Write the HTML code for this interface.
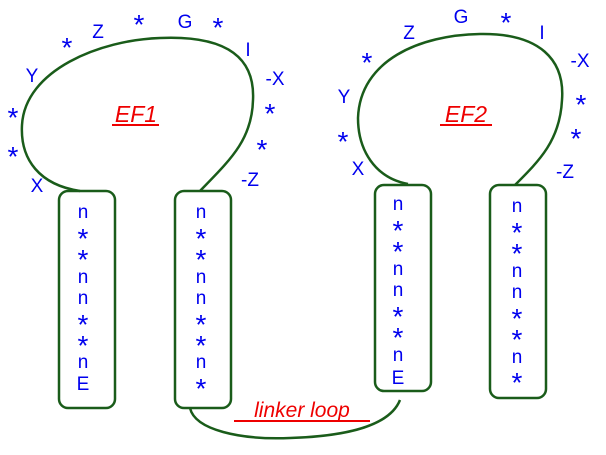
<!DOCTYPE html>
<html><head><style>body{margin:0;background:#fff}svg{display:block}.s{font-size:28px}</style></head><body>
<svg width="606" height="455" viewBox="0 0 606 455" xmlns="http://www.w3.org/2000/svg" font-family="Liberation Sans, sans-serif">
<g fill="none" stroke="#1a5c1a" stroke-width="2.5">
<rect x="59" y="191" width="56" height="217" rx="9"/>
<rect x="175" y="191" width="56" height="217" rx="9"/>
<rect x="375" y="185" width="56" height="206" rx="9"/>
<rect x="490" y="185" width="56" height="213" rx="9"/>
<path d="M80,191 C40,185 20,160 22,125 C25,70 100,40 160,38 C230,35 255,60 253,100 C252,140 230,160 200,191"/>
<path d="M408,184 C375,178 358,150 358,118 C360,60 420,35 480,34 C540,33 565,60 562,100 C560,140 540,160 515,185"/>
<path d="M190,408 C195,430 240,440 290,438 C350,436 390,425 400,400"/>
</g>
<g fill="#0000ee" font-size="19" text-anchor="middle">
<text x="83" y="218">n</text><text class="s" x="83" y="248">*</text><text class="s" x="83" y="269">*</text><text x="83" y="283">n</text><text x="83" y="304">n</text><text class="s" x="83" y="334">*</text><text class="s" x="83" y="355">*</text><text x="83" y="368">n</text><text x="83" y="390">E</text>
<text x="201" y="218">n</text><text class="s" x="201" y="248">*</text><text class="s" x="201" y="269">*</text><text x="201" y="283">n</text><text x="201" y="304">n</text><text class="s" x="201" y="334">*</text><text class="s" x="201" y="355">*</text><text x="201" y="368">n</text><text class="s" x="201" y="398">*</text>
<text x="398" y="210">n</text><text class="s" x="398" y="240">*</text><text class="s" x="398" y="261">*</text><text x="398" y="275">n</text><text x="398" y="296">n</text><text class="s" x="398" y="326">*</text><text class="s" x="398" y="347">*</text><text x="398" y="361">n</text><text x="398" y="384">E</text>
<text x="517" y="212">n</text><text class="s" x="517" y="242">*</text><text class="s" x="517" y="263">*</text><text x="517" y="277">n</text><text x="517" y="298">n</text><text class="s" x="517" y="328">*</text><text class="s" x="517" y="349">*</text><text x="517" y="363">n</text><text class="s" x="517" y="392">*</text>
<text class="s" x="13" y="127">*</text><text class="s" x="13" y="166">*</text><text x="37" y="192">X</text><text x="32" y="82">Y</text><text class="s" x="67" y="57">*</text><text x="98" y="38">Z</text><text class="s" x="139" y="34">*</text><text x="185" y="28">G</text><text class="s" x="218" y="37">*</text><text x="248" y="56">I</text><text x="275" y="85">-X</text><text class="s" x="270" y="123">*</text><text class="s" x="262" y="159">*</text><text x="250" y="186">-Z</text>
<text x="358" y="175">X</text><text class="s" x="343" y="151">*</text><text x="344" y="103">Y</text><text class="s" x="367" y="72">*</text><text x="409" y="39">Z</text><text x="461" y="23">G</text><text class="s" x="506" y="32">*</text><text x="542" y="39">I</text><text x="580" y="67">-X</text><text class="s" x="581" y="114">*</text><text class="s" x="576" y="148">*</text><text x="565" y="178">-Z</text>
</g>
<g fill="#ee0000" font-size="23" text-anchor="middle" transform="skewX(-8)">
</g>
<g fill="#ee0000" font-size="23" font-style="italic" text-anchor="middle">
<text x="136" y="122">EF1</text><text x="466" y="122">EF2</text>
<text x="302" y="417" font-size="21">linker loop</text>
</g>
<g stroke="#ee0000" stroke-width="2">
<line x1="112" y1="125" x2="159" y2="125"/><line x1="440" y1="125" x2="492" y2="125"/><line x1="234" y1="421" x2="370" y2="421"/>
</g>
</svg>
</body></html>
